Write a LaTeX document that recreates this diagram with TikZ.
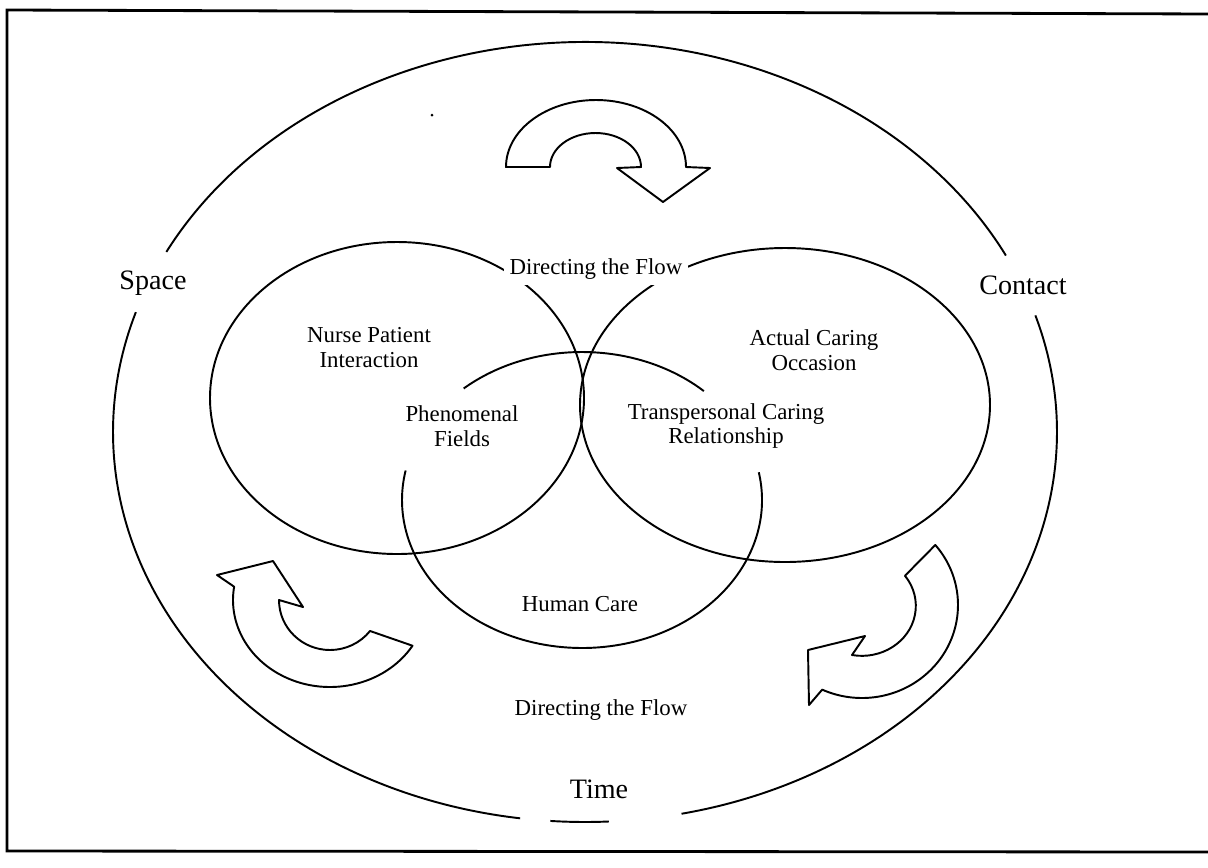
\documentclass[tikz,border=0pt]{standalone}
\usepackage{fontspec}
\setmainfont{Liberation Serif}
\tikzset{
  ring/.style={line width=1.1pt},
  turn/.style={draw, line width=1.1pt, line join=round},
  lbl/.style={font=\fontsize{13}{14.2}\selectfont, align=center, inner sep=1pt},
  biglbl/.style={font=\fontsize{16}{19}\selectfont, inner sep=1pt},
}
\begin{document}
\begin{tikzpicture}[x=0.02cm, y=-0.02cm]
  \useasboundingbox (0,0) rectangle (1208,867);

  % Frame
  \draw[line width=1.6pt] (1212,14) -- (7,10) -- (7,851) -- (1212,852);

  % Outer ring, with gaps at the labels
  \coordinate (o) at (585,432);
  \draw[ring] (o) ++(-17.4:472 and 390) arc[start angle=-17.4, end angle=78.2, x radius=472, y radius=390];
  \draw[ring] (o) ++(87.1:472 and 390) arc[start angle=87.1, end angle=94.2, x radius=472, y radius=390];
  \draw[ring] (o) ++(97.9:472 and 390) arc[start angle=97.9, end angle=197.9, x radius=472, y radius=390];
  \draw[ring] (o) ++(207.5:472 and 390) arc[start angle=207.5, end angle=333.1, x radius=472, y radius=390];

  % Inner rings
  \draw[ring] (397,398) ellipse[x radius=187, y radius=156];
  \draw[ring] (785,405) ellipse[x radius=205, y radius=157];
  \coordinate (h) at (582,500);
  \draw[ring] (h) ++(228.9:180 and 148) arc[start angle=228.9, end angle=312.6, x radius=180, y radius=148];
  \draw[ring] (h) ++(-10.8:180 and 148) arc[start angle=-10.8, end angle=191.5, x radius=180, y radius=148];

  % Turning arrows
  \draw[turn] (596,167) ++(180:90 and 67) arc[start angle=180, end angle=360, x radius=90, y radius=67]
    -- (710,168) -- (663,202) -- (617,168) -- (641,167)
    arc[start angle=0, end angle=-180, x radius=45.5, y radius=34] -- cycle;
  \draw[turn] (330,600) ++(31.7:97 and 87) arc[start angle=31.7, end angle=188.8, x radius=97, y radius=87]
    -- (217,575) -- (273,561) -- (303,607) -- (279,600)
    arc[start angle=180, end angle=38.3, x radius=51, y radius=50] -- cycle;
  \draw[turn] (862,605) ++(-40.2:96 and 93) arc[start angle=-40.2, end angle=114.5, x radius=96, y radius=93]
    -- (809,705) -- (808,650) -- (865,636) -- (852,655)
    arc[start angle=100.5, end angle=-37, x radius=54, y radius=50] -- cycle;
  \fill (432,115) circle[radius=1.5];

  % Labels
  \node[lbl, fill=white, inner sep=3pt] (flowtop) at (596,269) {Directing the Flow};
  \node[biglbl] (space) at (153,283) {Space};
  \node[biglbl] (contact) at (1023,285) {Contact};
  \node[lbl] (nurse) at (369,348) {Nurse Patient\\Interaction};
  \node[lbl] (actual) at (814,350) {Actual Caring\\Occasion};
  \node[lbl] (pheno) at (462,426) {Phenomenal\\Fields};
  \node[lbl] (trans) at (726,426) {Transpersonal Caring\\Relationship};
  \node[lbl] (human) at (580,604) {Human Care};
  \node[lbl] (flowbot) at (601,710) {Directing the Flow};
  \node[biglbl] (time) at (599,789) {Time};

\end{tikzpicture}
\end{document}
